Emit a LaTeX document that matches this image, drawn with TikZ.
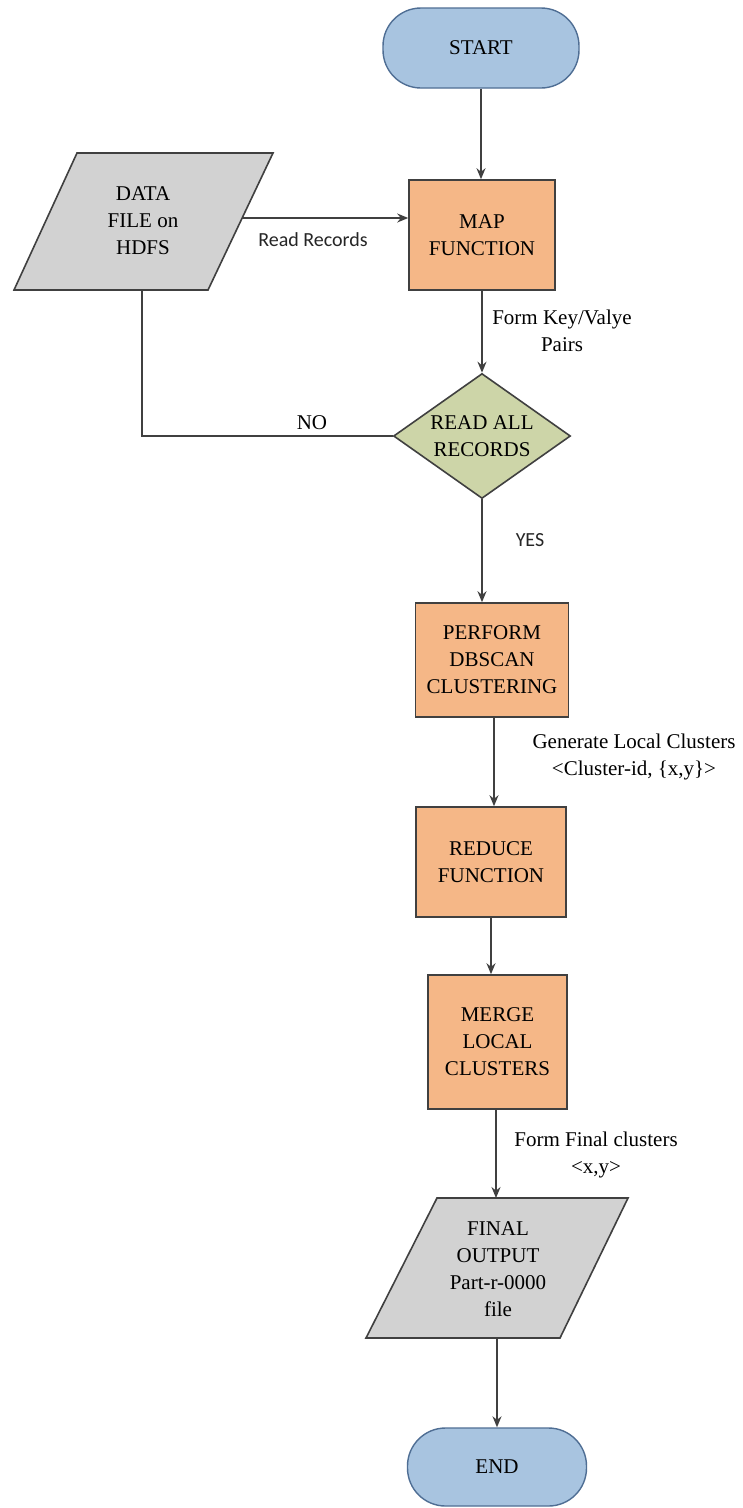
\documentclass[tikz,border=0pt]{standalone}
\usepackage{fontspec}
\setmainfont{Liberation Serif}
\newfontfamily\lblsans{Carlito}
\usetikzlibrary{shapes.geometric,arrows.meta,calc}
\definecolor{termfill}{HTML}{A8C4E0}
\definecolor{termdraw}{HTML}{4F6E94}
\definecolor{procfill}{HTML}{F5B787}
\definecolor{decfill}{HTML}{CDD5A8}
\definecolor{iofill}{HTML}{D2D2D2}
\definecolor{linecol}{HTML}{404040}
\tikzset{
  txt/.style={font=\fontsize{21}{27}\selectfont, align=center, text=black},
  terminal/.style={txt, draw=termdraw, fill=termfill, line width=1.4pt, rectangle, rounded corners=38pt, inner sep=0pt},
  procbox/.style={txt, draw=linecol, fill=procfill, line width=1.6pt, rectangle, inner sep=0pt},
  decbox/.style={draw=linecol, fill=decfill, line width=1.6pt, diamond, inner sep=0pt},
  ioshape/.style={draw=linecol, fill=iofill, line width=1.6pt},
  conn/.style={draw=linecol, line width=1.6pt},
  arr/.style={conn, -{Stealth[length=11pt,width=9pt]}},
  edgelbl/.style={txt},
  sanslbl/.style={font=\lblsans\fontsize{20}{26}\selectfont, text=black!85},
}
\begin{document}
\begin{tikzpicture}[x=1pt,y=-1pt]
\useasboundingbox (0,0) rectangle (742,1508);
\fill[white] (0,0) rectangle (742,1508);

% terminals and process boxes
\node[terminal, minimum width=196pt, minimum height=80pt] (start) at (481,48) {START};
\node[procbox, minimum width=146pt, minimum height=110pt] (map) at (482,235) {MAP\\FUNCTION};
\node[decbox, minimum width=177pt, minimum height=125pt] (dec) at (482,436) {};
\node[txt] (dectext) at (482,436) {READ ALL\\RECORDS};
\node[procbox, minimum width=153pt, minimum height=114pt] (perform) at (492,660) {PERFORM\\DBSCAN\\CLUSTERING};
\node[procbox, minimum width=150pt, minimum height=110pt] (reduce) at (491,862) {REDUCE\\FUNCTION};
\node[procbox, minimum width=139pt, minimum height=134pt] (merge) at (497.5,1042) {MERGE\\LOCAL\\CLUSTERS};
\node[terminal, minimum width=179pt, minimum height=78pt] (end) at (497,1467) {END};

% input/output parallelograms
\path[ioshape] (77,153) -- (273,153) -- (208,290) -- (14,290) -- cycle;
\node[txt] (data) at (143,221) {DATA\\FILE on\\HDFS};
\coordinate (dataR) at (242,218);
\coordinate (dataB) at (142,290);

\path[ioshape] (437,1198) -- (628,1198) -- (560,1338) -- (366,1338) -- cycle;
\node[txt] (final) at (498,1269) {FINAL\\OUTPUT\\Part-r-0000\\file};
\coordinate (finalT) at (496,1198);
\coordinate (finalB) at (497,1338);

% connectors
\draw[arr] (start.south) -- (start.south |- map.north);
\draw[arr] (dataR) -- (map.west |- dataR);
\draw[arr] (map.south) -- (dec.north);
\draw[conn] (dec.west) -| (dataB);
\draw[arr] (dec.south) -- (dec.south |- perform.north);
\draw[arr] ($(perform.south)+(2,0)$) -- ($(perform.south |- reduce.north)+(2,0)$);
\draw[arr] (reduce.south) -- (reduce.south |- merge.north);
\draw[arr] ($(merge.south)+(-1.5,0)$) -- ($(merge.south |- finalT)+(-1.5,0)$);
\draw[arr] (finalB) -- (finalB |- end.north);

% labels
\node[sanslbl] (lread) at (313,240) {Read Records};
\node[edgelbl] (lkey) at (562,331) {Form Key/Valye\\Pairs};
\node[edgelbl] (lno) at (312,423) {NO};
\node[sanslbl] (lyes) at (530,540) {YES};
\node[edgelbl] (lgen) at (634,757) {Generate Local Clusters\\\textless Cluster-id, \{x,y\}\textgreater};
\node[edgelbl] (lfinal) at (596,1155) {Form Final clusters\\\textless x,y\textgreater};
\end{tikzpicture}
\end{document}
